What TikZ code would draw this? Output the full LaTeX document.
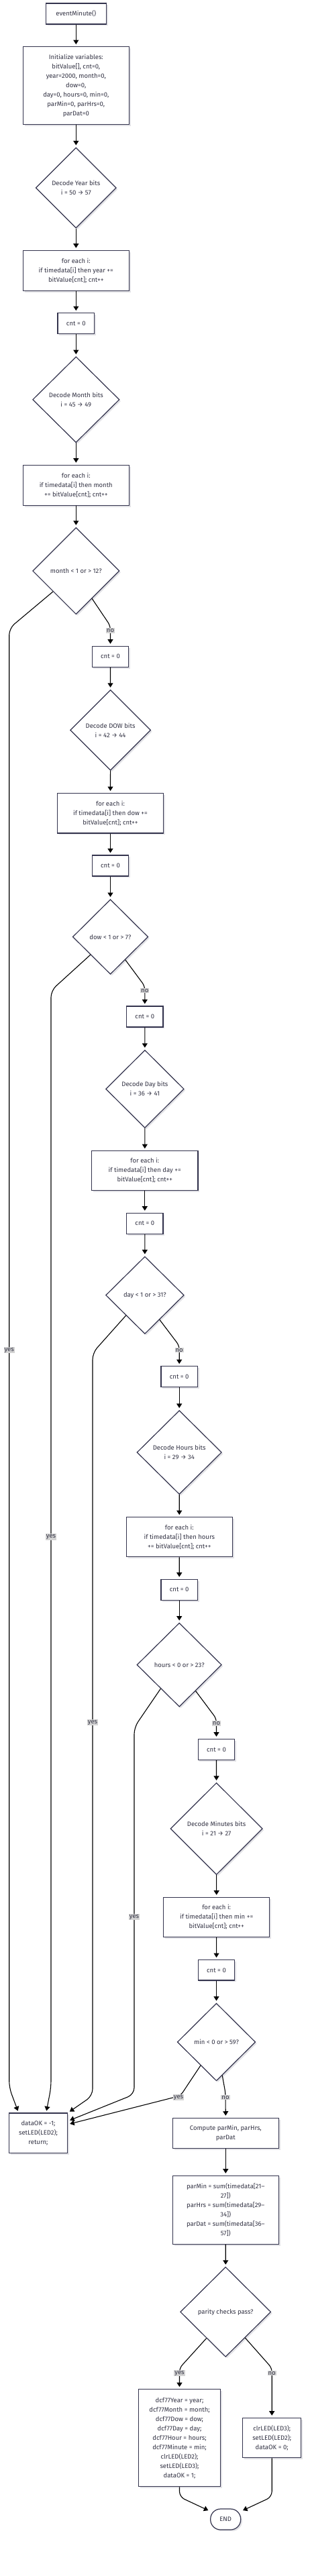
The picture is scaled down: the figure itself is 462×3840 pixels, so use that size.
\documentclass[tikz,border=0pt]{standalone}
\usepackage{fontspec}
\setmainfont{Fira Sans}
\usetikzlibrary{shapes.geometric,arrows.meta,shadows}
\definecolor{txt}{RGB}{51,51,68}
\definecolor{bord}{RGB}{51,51,77}
\definecolor{lbl}{RGB}{211,211,211}
\definecolor{shad}{RGB}{226,226,230}
\begin{document}
\begin{tikzpicture}[x=1pt,y=-1pt,
  base/.style={draw=bord,line width=1.2pt,fill=white,text=txt,align=center,inner sep=0pt,
    font=\fontsize{9.5}{14}\selectfont,
    drop shadow={shadow xshift=2.2pt,shadow yshift=-2.2pt,draw=none,fill=shad,opacity=1}},
  box/.style={base,rectangle},
  dia/.style={base,diamond,aspect=1},
  term/.style={base,rectangle,rounded corners=15pt},
  arr/.style={draw=black,line width=1.1pt,-{Triangle[length=6.5pt,width=8pt]},shorten >=3pt},
  lab/.style={fill=lbl,text=txt,inner sep=1pt,font=\fontsize{9.5}{11}\selectfont}]
\useasboundingbox (0,0) rectangle (462,3840);

% nodes
\node[box,minimum width=90pt,minimum height=31pt] (start) at (113.3,20.5) {eventMinute()};
\node[box,minimum width=158pt,minimum height=116pt] (init) at (113.3,127.7)
  {Initialize variables:\\ bitValue[], cnt=0,\\ year=2000, month=0,\\ dow=0,\\ day=0, hours=0, min=0,\\ parMin=0, parHrs=0,\\ parDat=0};
\node[dia,minimum width=120pt,minimum height=120pt] (dyear) at (113.3,280) {Decode Year bits\\ i = 50 → 57};
\node[box,minimum width=158pt,minimum height=60pt] (fyear) at (113.3,403.3)
  {for each i:\\ if timedata[i] then year +=\\ bitValue[cnt]; cnt++};
\node[box,minimum width=54.5pt,minimum height=30.7pt] (c1) at (113.3,482) {cnt = 0};
\node[dia,minimum width=129.3pt,minimum height=128pt] (dmonth) at (113.3,595.7) {Decode Month bits\\ i = 45 → 49};
\node[box,minimum width=158pt,minimum height=60pt] (fmonth) at (113.3,723.3)
  {for each i:\\ if timedata[i] then month\\ += bitValue[cnt]; cnt++};
\node[dia,minimum width=129.3pt,minimum height=129.3pt] (qmonth) at (113.3,851) {month < 1 or > 12?};

\node[box,minimum width=54.5pt,minimum height=31pt] (c2) at (164.5,978.8) {cnt = 0};
\node[dia,minimum width=120pt,minimum height=120pt] (ddow) at (164.6,1088.3) {Decode DOW bits\\ i = 42 → 44};
\node[box,minimum width=157.6pt,minimum height=59.3pt] (fdow) at (164.5,1212.3)
  {for each i:\\ if timedata[i] then dow +=\\ bitValue[cnt]; cnt++};
\node[box,minimum width=54.5pt,minimum height=31pt] (c3) at (164.5,1290.5) {cnt = 0};
\node[dia,minimum width=112.4pt,minimum height=111.6pt] (qdow) at (164.5,1396.5) {dow < 1 or > 7?};

\node[box,minimum width=54.5pt,minimum height=31pt] (c4) at (215.8,1515.5) {cnt = 0};
\node[dia,minimum width=116.6pt,minimum height=116pt] (dday) at (215.9,1623.3) {Decode Day bits\\ i = 36 → 41};
\node[box,minimum width=158.3pt,minimum height=58.6pt] (fday) at (215.8,1745)
  {for each i:\\ if timedata[i] then day +=\\ bitValue[cnt]; cnt++};
\node[box,minimum width=54.5pt,minimum height=31pt] (c5) at (215.8,1823.8) {cnt = 0};
\node[dia,minimum width=116.6pt,minimum height=115.4pt] (qday) at (215.9,1930.7) {day < 1 or > 31?};

\node[box,minimum width=54.5pt,minimum height=30.6pt] (c6) at (267.2,2052) {cnt = 0};
\node[dia,minimum width=126.3pt,minimum height=125pt] (dhours) at (267.2,2165) {Decode Hours bits\\ i = 29 → 34};
\node[box,minimum width=158pt,minimum height=59pt] (fhours) at (267.3,2291.2)
  {for each i:\\ if timedata[i] then hours\\ += bitValue[cnt]; cnt++};
\node[box,minimum width=54.5pt,minimum height=31pt] (c7) at (267.2,2369.8) {cnt = 0};
\node[dia,minimum width=126.3pt,minimum height=125pt] (qhours) at (267.2,2481.7) {hours < 0 or > 23?};

\node[box,minimum width=54.5pt,minimum height=31pt] (c8) at (322.5,2607.8) {cnt = 0};
\node[dia,minimum width=137.3pt,minimum height=137pt] (dmin) at (322.6,2726) {Decode Minutes bits\\ i = 21 → 27};
\node[box,minimum width=158pt,minimum height=59pt] (fmin) at (322.7,2857.8)
  {for each i:\\ if timedata[i] then min +=\\ bitValue[cnt]; cnt++};
\node[box,minimum width=54.5pt,minimum height=30.3pt] (c9) at (322.5,2936.8) {cnt = 0};
\node[dia,minimum width=116.4pt,minimum height=115.7pt] (qmin) at (322.5,3044) {min < 0 or > 59?};

\node[box,minimum width=87.4pt,minimum height=59.3pt] (fail) at (57,3179.7) {dataOK = -1;\\ setLED(LED2);\\ return;};
\node[box,minimum width=158pt,minimum height=45pt] (comp) at (336.3,3179.8) {Compute parMin, parHrs,\\ parDat};
\node[box,minimum width=158pt,minimum height=102pt] (par) at (336.3,3294.3)
  {parMin = sum(timedata[21–\\ 27])\\ parHrs = sum(timedata[29–\\ 34])\\ parDat = sum(timedata[36–\\ 57])};
\node[dia,minimum width=135pt,minimum height=134pt] (qpar) at (336.2,3446.3) {parity checks pass?};
\node[box,minimum width=121.6pt,minimum height=145pt] (ok) at (267.5,3634.2)
  {dcf77Year = year;\\ dcf77Month = month;\\ dcf77Dow = dow;\\ dcf77Day = day;\\ dcf77Hour = hours;\\ dcf77Minute = min;\\ clrLED(LED2);\\ setLED(LED3);\\ dataOK = 1;};
\node[box,minimum width=87pt,minimum height=59.4pt] (bad) at (405.2,3634) {clrLED(LED3);\\ setLED(LED2);\\ dataOK = 0;};
\node[term,minimum width=45pt,minimum height=31pt] (end) at (336.2,3755.5) {END};

% straight chain
\draw[arr] (start) -- (init);
\draw[arr] (init) -- (dyear);
\draw[arr] (dyear) -- (fyear);
\draw[arr] (fyear) -- (c1);
\draw[arr] (c1) -- (dmonth);
\draw[arr] (dmonth) -- (fmonth);
\draw[arr] (fmonth) -- (qmonth);
\draw[arr] (c2) -- (ddow);
\draw[arr] (ddow) -- (fdow);
\draw[arr] (fdow) -- (c3);
\draw[arr] (c3) -- (qdow);
\draw[arr] (c4) -- (dday);
\draw[arr] (dday) -- (fday);
\draw[arr] (fday) -- (c5);
\draw[arr] (c5) -- (qday);
\draw[arr] (c6) -- (dhours);
\draw[arr] (dhours) -- (fhours);
\draw[arr] (fhours) -- (c7);
\draw[arr] (c7) -- (qhours);
\draw[arr] (c8) -- (dmin);
\draw[arr] (dmin) -- (fmin);
\draw[arr] (fmin) -- (c9);
\draw[arr] (c9) -- (qmin);
\draw[arr] (comp) -- (par);
\draw[arr] (par) -- (qpar);

% no branches
\draw[arr,rounded corners=6pt] (qmonth.-60) -- (164.5,933) -- (c2.north);
\node[lab] (l1) at (164.5,940) {no};
\draw[arr,rounded corners=6pt] (qdow.-57) -- (215.8,1470) -- (c4.north);
\node[lab] (l2) at (215.8,1476.7) {no};
\draw[arr,rounded corners=6pt] (qday.-59) -- (267.2,2006) -- (c6.north);
\node[lab] (l3) at (267.2,2012.7) {no};
\draw[arr,rounded corners=6pt] (qhours.-58) -- (322.5,2562) -- (c8.north);
\node[lab] (l4) at (322.5,2569) {no};
\draw[arr,rounded corners=6pt] (qmin.-80) -- (336,3120) -- (comp.north);
\node[lab] (l5) at (336,3126.7) {no};

% yes branches to fail
\draw[arr,rounded corners=10pt] (qmonth.222) -- (13.7,936.7) -- (13.7,3112) -- ([xshift=15pt]fail.north west);
\node[lab] (y1) at (13.7,2012.7) {yes};
\draw[arr,rounded corners=10pt] (qdow.222) -- (76,1476.7) -- (76,3112) -- ([xshift=56pt]fail.north west);
\node[lab] (y2) at (76,2291) {yes};
\draw[arr,rounded corners=10pt] (qday.227) -- (138,2016.7) -- (138,3124) -- (fail.north east);
\node[lab] (y3) at (138,2567.7) {yes};
\draw[arr,rounded corners=10pt] (qhours.232) -- (200,2575) -- (200,3122) -- ([yshift=18pt]fail.east);
\node[lab] (y4) at (200,2857.7) {yes};
\draw[arr,rounded corners=6pt] (qmin.236) -- (269,3124) -- ([yshift=13pt]fail.east);
\node[lab] (y5) at (266,3126.7) {yes};

% parity
\draw[arr,rounded corners=6pt] (qpar.234) -- (267.5,3530) -- (ok.north);
\node[lab] (y6) at (267.5,3537.7) {yes};
\draw[arr,rounded corners=6pt] (qpar.-53) -- (405.2,3530) -- (bad.north);
\node[lab] (l6) at (405.2,3537.7) {no};

% to end
\draw[arr,rounded corners=8pt] (ok.south) -- (267.5,3722) -- ([yshift=-4pt]end.north west);
\draw[arr,rounded corners=8pt] (bad.south) -- (405.2,3722) -- ([yshift=-4pt]end.north east);
\end{tikzpicture}
\end{document}
